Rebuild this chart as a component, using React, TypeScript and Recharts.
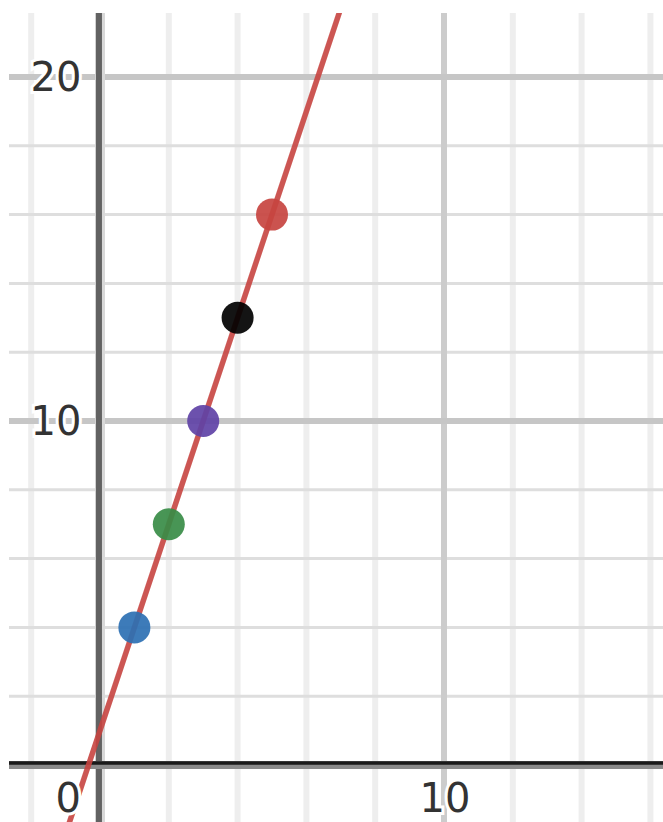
import React from 'react';
import { ComposedChart, XAxis, YAxis, Line, Scatter, ReferenceLine, Cell } from 'recharts';

// Domain of the visible window (Desmos-style view)
const xDomain = [-2.645, 16.366];
const yDomain = [-1.657, 21.86];

// Grid lines
const minorX = [-2, 2, 4, 6, 8, 12, 14, 16];
const majorX = [10];
const minorY = [2, 4, 6, 8, 12, 14, 16, 18];
const majorY = [10, 20];

// Line y = 3x + 1, drawn between two endpoints beyond the window
const lineData = [
  { x: -1, y: -2 },
  { x: 7.5, y: 23.5 },
];

// Points on the line
const pointData = [
  { x: 1, y: 4 },
  { x: 2, y: 7 },
  { x: 3, y: 10 },
  { x: 4, y: 13 },
  { x: 5, y: 16 },
];
const pointColors = ['#2d70b3', '#388c46', '#6042a6', '#000000', '#c74440'];

// Axis tick labels
const yTickLabels = [
  { x: -1.28, y: 20, label: '20' },
  { x: -1.28, y: 10, label: '10' },
];
const xTickLabels = [
  { x: -0.92, y: -0.95, label: '0' },
  { x: 10.03, y: -0.95, label: '10' },
];

const LabelShape = (props: any) => {
  const { cx, cy, payload } = props;
  return (
    <text
      x={cx}
      y={cy + 14}
      textAnchor="middle"
      fontFamily="DejaVu Sans, sans-serif"
      fontSize={40}
      fill="#333333"
      stroke="#ffffff"
      strokeWidth={6}
      paintOrder="stroke"
    >
      {payload.label}
    </text>
  );
};

const DotShape = (props: any) => {
  const { cx, cy, fill } = props;
  return <circle cx={cx} cy={cy} r={16} fill={fill} opacity={0.92} />;
};

export default function App() {
  return (
    <div style={{ position: 'absolute', left: 0, top: 0, background: '#fff' }}>
      <ComposedChart
        width={663}
        height={822}
        margin={{ top: 13, left: 9, right: 0, bottom: 0 }}
      >
        <XAxis type="number" dataKey="x" domain={xDomain} allowDataOverflow hide />
        <YAxis type="number" dataKey="y" domain={yDomain} allowDataOverflow hide />
        {minorX.map((v) => (
          <ReferenceLine key={'mx' + v} x={v} stroke="#eeeeee" strokeWidth={6} ifOverflow="hidden" />
        ))}
        {minorY.map((v) => (
          <ReferenceLine key={'my' + v} y={v} stroke="#dedede" strokeWidth={3} ifOverflow="hidden" />
        ))}
        {majorX.map((v) => (
          <ReferenceLine key={'Mx' + v} x={v} stroke="#cccccc" strokeWidth={6} ifOverflow="hidden" />
        ))}
        {majorY.map((v) => (
          <ReferenceLine key={'My' + v} y={v} stroke="#c6c6c6" strokeWidth={6} ifOverflow="hidden" />
        ))}
        <ReferenceLine x={0} stroke="#d8d8d8" strokeWidth={10} />
        <ReferenceLine x={-0.03} stroke="#626262" strokeWidth={6} />
        <ReferenceLine y={0} stroke="#8a8a8a" strokeWidth={8} />
        <ReferenceLine y={0.06} stroke="#1a1a1a" strokeWidth={3.5} />
        <Scatter data={yTickLabels} shape={LabelShape} isAnimationActive={false} />
        <Scatter data={xTickLabels} shape={LabelShape} isAnimationActive={false} />
        <Line
          data={lineData}
          dataKey="y"
          type="linear"
          stroke="#c74440"
          strokeWidth={5.5}
          strokeOpacity={0.9}
          dot={false}
          activeDot={false}
          isAnimationActive={false}
        />
        <Scatter data={pointData} shape={DotShape} isAnimationActive={false}>
          {pointData.map((p, i) => (
            <Cell key={i} fill={pointColors[i]} />
          ))}
        </Scatter>
      </ComposedChart>
    </div>
  );
}
